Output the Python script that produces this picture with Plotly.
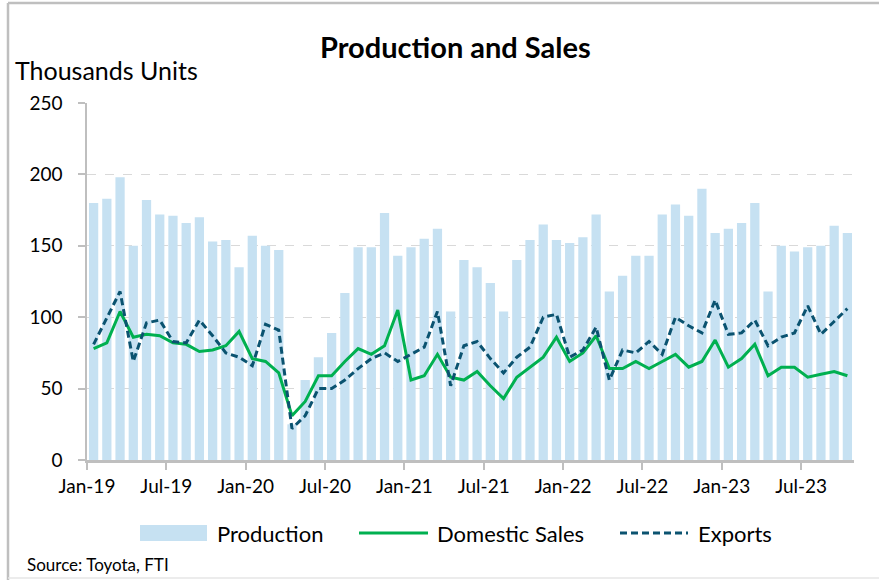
import plotly.graph_objects as go
import pandas as pd

# ---- data (thousand units), Jan-2019 .. Oct-2023 ----
months = [d.strftime("%b-%y") for d in pd.date_range("2019-01-01", "2023-10-01", freq="MS")]

production = [180, 183, 198, 150, 182, 172, 171, 166, 170, 153, 154, 135,
              157, 150, 147, 25, 56, 72, 89, 117, 149, 149, 173, 143,
              149, 155, 162, 104, 140, 135, 124, 104, 140, 154, 165, 154,
              152, 156, 172, 118, 129, 143, 143, 172, 179, 171, 190, 159,
              162, 166, 180, 118, 150, 146, 149, 150, 164, 159]

domestic_sales = [78, 82, 104, 86, 88, 87, 82, 81, 76, 77, 80, 90,
                  71, 69, 61, 31, 41, 59, 59, 69, 78, 74, 80, 105,
                  56, 59, 74, 58, 56, 62, 52, 43, 58, 65, 72, 86,
                  69, 75, 87, 64, 64, 69, 64, 69, 74, 65, 69, 84,
                  65, 71, 81, 59, 65, 65, 58, 60, 62, 59]

exports = [81, 100, 118, 69, 96, 98, 83, 82, 98, 87, 75, 72,
           66, 95, 91, 22, 31, 50, 50, 56, 64, 71, 75, 69,
           74, 79, 104, 52, 80, 83, 71, 61, 72, 79, 100, 102,
           72, 77, 93, 56, 77, 75, 83, 74, 100, 94, 89, 112,
           88, 89, 98, 80, 86, 89, 108, 88, 97, 106]

tick_labels = ["Jan-19", "Jul-19", "Jan-20", "Jul-20", "Jan-21",
               "Jul-21", "Jan-22", "Jul-22", "Jan-23", "Jul-23"]

# ---- styling ----
FONT = "Lato"
BAR_C = "#C6E1F2"
GREEN = "#00B050"
TEAL = "#0B5370"
AXIS_C = "#BFBFBF"

idx = list(range(len(months)))
tick_pos = [months.index(m) - 0.5 for m in tick_labels]

fig = go.Figure()
fig.add_trace(go.Bar(x=idx, y=production, name="Production", marker_color=BAR_C,
                     marker_line_width=0, customdata=months,
                     hovertemplate="%{customdata}: %{y}<extra>Production</extra>"))
fig.add_trace(go.Scatter(x=idx, y=domestic_sales, name="Domestic Sales", mode="lines",
                         line=dict(color=GREEN, width=3), customdata=months,
                         hovertemplate="%{customdata}: %{y}<extra>Domestic Sales</extra>"))
fig.add_trace(go.Scatter(x=idx, y=exports, name="Exports", mode="lines",
                         line=dict(color=TEAL, width=3, dash="7px,4px"), customdata=months,
                         hovertemplate="%{customdata}: %{y}<extra>Exports</extra>"))

W, H = 879, 580
L, R, T, B = 87, 25, 103, 120
PW, PH = W - L - R, H - T - B


def px(xp):
    return (xp - L) / PW


def py(yp):
    return (H - B - yp) / PH


annotations = [
    dict(text="<b>Production and Sales</b>", x=px(455), y=py(47), xref="paper", yref="paper",
         showarrow=False, xanchor="center", yanchor="middle",
         font=dict(family=FONT, size=29, color="black")),
    dict(text="Thousands Units", x=px(13), y=py(70), xref="paper", yref="paper",
         showarrow=False, xanchor="left", yanchor="middle",
         font=dict(family=FONT, size=25, color="black")),
    dict(text="Source: Toyota, FTI", x=px(25), y=py(564), xref="paper", yref="paper",
         showarrow=False, xanchor="left", yanchor="middle",
         font=dict(family=FONT, size=17, color="black")),
]

shapes = [
    # outer frame
    dict(type="line", xref="paper", yref="paper", x0=px(8), x1=px(8), y0=py(3), y1=py(580),
         line=dict(color=AXIS_C, width=2.5)),
    dict(type="line", xref="paper", yref="paper", x0=px(8), x1=px(879), y0=py(3), y1=py(3),
         line=dict(color=AXIS_C, width=2.5)),
    dict(type="line", xref="paper", yref="paper", x0=px(8), x1=px(879), y0=py(578), y1=py(578),
         line=dict(color="#E6E6E6", width=1.5)),
]

# custom legend
leg_y = 533
legend_items = [
    ("Production", "bar", 140, 207, 215),
    ("Domestic Sales", "solid", 359, 428, 435),
    ("Exports", "dash", 620, 688, 696),
]
for name, kind, x0, x1, tx in legend_items:
    if kind == "bar":
        shapes.append(dict(type="rect", xref="paper", yref="paper",
                           x0=px(x0), x1=px(x1), y0=py(leg_y - 8), y1=py(leg_y + 8),
                           fillcolor=BAR_C, line=dict(width=0)))
    else:
        shapes.append(dict(type="line", xref="paper", yref="paper",
                           x0=px(x0), x1=px(x1), y0=py(leg_y), y1=py(leg_y),
                           line=dict(color=GREEN if kind == "solid" else TEAL, width=3,
                                     dash="solid" if kind == "solid" else "7px,4px")))
    annotations.append(dict(text=name, x=px(tx), y=py(leg_y), xref="paper", yref="paper",
                            showarrow=False, xanchor="left", yanchor="middle",
                            font=dict(family=FONT, size=22, color="black")))

fig.update_layout(
    width=W, height=H,
    margin=dict(l=L, r=R, t=T, b=B, autoexpand=False),
    paper_bgcolor="white", plot_bgcolor="white",
    showlegend=False,
    bargap=0.3,
    font=dict(family=FONT, color="black"),
    annotations=annotations,
    shapes=shapes,
    xaxis=dict(range=[-0.5, len(months) - 0.5], tickmode="array", tickvals=tick_pos,
               ticktext=tick_labels, showgrid=False, zeroline=False,
               showline=True, linecolor=AXIS_C, linewidth=2.5,
               ticks="outside", ticklen=7, tickwidth=2, tickcolor=AXIS_C,
               tickfont=dict(family=FONT, size=19, color="black")),
    yaxis=dict(range=[0, 250], tickmode="linear", tick0=0, dtick=50,
               showgrid=True, gridcolor="#D9D9D9", gridwidth=1, griddash="dash",
               zeroline=False, showline=True, linecolor=AXIS_C, linewidth=1.5,
               ticks="outside", ticklen=7, tickwidth=1.5, tickcolor=AXIS_C,
               ticklabelstandoff=12,
               tickfont=dict(family=FONT, size=19, color="black")),
)

fig.write_html("out.html",
               config={"displayModeBar": False},
               post_script="document.body.style.margin='0';document.body.style.overflow='hidden';")
